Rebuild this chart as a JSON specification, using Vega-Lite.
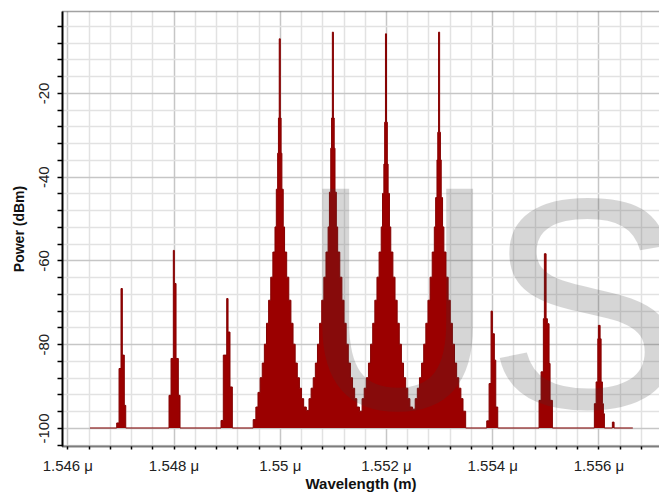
{
  "$schema": "https://vega.github.io/schema/vega-lite/v6.json",
  "width": 597,
  "height": 435,
  "autosize": "none",
  "padding": {"left": 62, "top": 11, "right": 0, "bottom": 50},
  "background": "white",
  "config": {"view": {"stroke": null}},
  "data": {
    "values": [
      {"wl": 1.546427, "p": -100},
      {"wl": 1.54693, "p": -98.8},
      {"wl": 1.546974, "p": -85.8},
      {"wl": 1.547011, "p": -66.7},
      {"wl": 1.547036, "p": -82.6},
      {"wl": 1.547073, "p": -94.6},
      {"wl": 1.5471, "p": -100},
      {"wl": 1.547915, "p": -92.2},
      {"wl": 1.547953, "p": -83.4},
      {"wl": 1.547996, "p": -57.6},
      {"wl": 1.548015, "p": -65.5},
      {"wl": 1.548047, "p": -83.4},
      {"wl": 1.54809, "p": -92.2},
      {"wl": 1.548122, "p": -100},
      {"wl": 1.548894, "p": -98.2},
      {"wl": 1.548937, "p": -82.6},
      {"wl": 1.549001, "p": -69.1},
      {"wl": 1.549026, "p": -77.1},
      {"wl": 1.549063, "p": -90.2},
      {"wl": 1.549107, "p": -100},

      {"wl": 1.5495, "p": -98},
      {"wl": 1.54955, "p": -95},
      {"wl": 1.54959, "p": -91.5},
      {"wl": 1.54963, "p": -88},
      {"wl": 1.54967, "p": -84.5},
      {"wl": 1.54971, "p": -80},
      {"wl": 1.54975, "p": -75},
      {"wl": 1.54979, "p": -69.5},
      {"wl": 1.54983, "p": -64},
      {"wl": 1.54987, "p": -58},
      {"wl": 1.54991, "p": -52},
      {"wl": 1.549935, "p": -43},
      {"wl": 1.54996, "p": -34.4},
      {"wl": 1.549975, "p": -26},
      {"wl": 1.54999, "p": -7.1},
      {"wl": 1.55001, "p": -26},
      {"wl": 1.550025, "p": -34.4},
      {"wl": 1.55004, "p": -43},
      {"wl": 1.550065, "p": -52},
      {"wl": 1.55009, "p": -58},
      {"wl": 1.55013, "p": -64},
      {"wl": 1.55017, "p": -69.5},
      {"wl": 1.55021, "p": -75},
      {"wl": 1.55025, "p": -80},
      {"wl": 1.55029, "p": -84.5},
      {"wl": 1.55033, "p": -88},
      {"wl": 1.55037, "p": -90.5},
      {"wl": 1.55041, "p": -93},
      {"wl": 1.55045, "p": -95},

      {"wl": 1.5505, "p": -95.8},
      {"wl": 1.55055, "p": -93},
      {"wl": 1.55059, "p": -90.5},
      {"wl": 1.55063, "p": -88},
      {"wl": 1.55067, "p": -84.5},
      {"wl": 1.55071, "p": -80},
      {"wl": 1.55075, "p": -75},
      {"wl": 1.55079, "p": -69.5},
      {"wl": 1.55083, "p": -64},
      {"wl": 1.55087, "p": -58},
      {"wl": 1.55091, "p": -52},
      {"wl": 1.550935, "p": -43.7},
      {"wl": 1.55096, "p": -33.2},
      {"wl": 1.550975, "p": -26},
      {"wl": 1.55099, "p": -5.5},
      {"wl": 1.55101, "p": -26},
      {"wl": 1.551025, "p": -33.2},
      {"wl": 1.55104, "p": -43.7},
      {"wl": 1.551065, "p": -52},
      {"wl": 1.55109, "p": -58},
      {"wl": 1.55113, "p": -64},
      {"wl": 1.55117, "p": -69.5},
      {"wl": 1.55121, "p": -75},
      {"wl": 1.55125, "p": -80},
      {"wl": 1.55129, "p": -84.5},
      {"wl": 1.55133, "p": -88},
      {"wl": 1.55137, "p": -90.5},
      {"wl": 1.55141, "p": -93},
      {"wl": 1.55145, "p": -95},

      {"wl": 1.5515, "p": -96},
      {"wl": 1.55155, "p": -93},
      {"wl": 1.55159, "p": -90.5},
      {"wl": 1.55163, "p": -88},
      {"wl": 1.55167, "p": -84.5},
      {"wl": 1.55171, "p": -80},
      {"wl": 1.55175, "p": -75},
      {"wl": 1.55179, "p": -69.5},
      {"wl": 1.55183, "p": -64},
      {"wl": 1.55187, "p": -58},
      {"wl": 1.55191, "p": -52},
      {"wl": 1.551935, "p": -44},
      {"wl": 1.55196, "p": -37},
      {"wl": 1.551975, "p": -27},
      {"wl": 1.55199, "p": -5.9},
      {"wl": 1.55201, "p": -27},
      {"wl": 1.552025, "p": -37},
      {"wl": 1.55204, "p": -44},
      {"wl": 1.552065, "p": -52},
      {"wl": 1.55209, "p": -58},
      {"wl": 1.55213, "p": -64},
      {"wl": 1.55217, "p": -69.5},
      {"wl": 1.55221, "p": -75},
      {"wl": 1.55225, "p": -80},
      {"wl": 1.55229, "p": -84.5},
      {"wl": 1.55233, "p": -88},
      {"wl": 1.55237, "p": -90.5},
      {"wl": 1.55241, "p": -93},
      {"wl": 1.55245, "p": -95},

      {"wl": 1.5525, "p": -95.5},
      {"wl": 1.55255, "p": -93},
      {"wl": 1.55259, "p": -90.5},
      {"wl": 1.55263, "p": -88},
      {"wl": 1.55267, "p": -84.5},
      {"wl": 1.55271, "p": -80},
      {"wl": 1.55275, "p": -75},
      {"wl": 1.55279, "p": -69.5},
      {"wl": 1.55283, "p": -64},
      {"wl": 1.55287, "p": -58},
      {"wl": 1.55291, "p": -52},
      {"wl": 1.552935, "p": -45},
      {"wl": 1.55296, "p": -36},
      {"wl": 1.552975, "p": -29.4},
      {"wl": 1.55299, "p": -5.5},
      {"wl": 1.55301, "p": -29.4},
      {"wl": 1.553025, "p": -36},
      {"wl": 1.55304, "p": -45},
      {"wl": 1.553065, "p": -52},
      {"wl": 1.55309, "p": -58},
      {"wl": 1.55313, "p": -64},
      {"wl": 1.55317, "p": -69.5},
      {"wl": 1.55321, "p": -75},
      {"wl": 1.55325, "p": -80},
      {"wl": 1.55329, "p": -84.5},
      {"wl": 1.55333, "p": -88},
      {"wl": 1.55337, "p": -90.5},
      {"wl": 1.55341, "p": -93},
      {"wl": 1.55345, "p": -96},
      {"wl": 1.5535, "p": -100},

      {"wl": 1.553897, "p": -98.3},
      {"wl": 1.553941, "p": -89.4},
      {"wl": 1.553978, "p": -72.1},
      {"wl": 1.554003, "p": -77.5},
      {"wl": 1.55404, "p": -83.8},
      {"wl": 1.554067, "p": -95},
      {"wl": 1.554104, "p": -100},
      {"wl": 1.554882, "p": -93.4},
      {"wl": 1.55492, "p": -86.6},
      {"wl": 1.554963, "p": -73.9},
      {"wl": 1.554982, "p": -58.4},
      {"wl": 1.555014, "p": -73.9},
      {"wl": 1.555038, "p": -75.1},
      {"wl": 1.55507, "p": -84.6},
      {"wl": 1.555089, "p": -93.4},
      {"wl": 1.555133, "p": -100},
      {"wl": 1.555923, "p": -94.2},
      {"wl": 1.555956, "p": -89},
      {"wl": 1.555988, "p": -78.7},
      {"wl": 1.555999, "p": -75.5},
      {"wl": 1.556031, "p": -78.7},
      {"wl": 1.55605, "p": -89},
      {"wl": 1.556074, "p": -94.2},
      {"wl": 1.556093, "p": -96.6},
      {"wl": 1.556112, "p": -100},
      {"wl": 1.556262, "p": -98.6},
      {"wl": 1.556294, "p": -100},
      {"wl": 1.556647, "p": -100}
    ]
  },
  "layer": [
    {
      "mark": {"type": "area", "interpolate": "step-after", "color": "#9b0000"},
      "encoding": {
        "x": {
          "field": "wl",
          "type": "quantitative",
          "scale": {"domain": [1.5459, 1.55714], "nice": false, "zero": false},
          "axis": {
            "orient": "bottom",
            "title": "Wavelength (m)",
            "values": [1.546, 1.5464, 1.5468, 1.5472, 1.5476, 1.548, 1.5484, 1.5488, 1.5492, 1.5496, 1.55, 1.5504, 1.5508, 1.5512, 1.5516, 1.552, 1.5524, 1.5528, 1.5532, 1.5536, 1.554, 1.5544, 1.5548, 1.5552, 1.5556, 1.556, 1.5564, 1.5568],
            "tickCount": 200,
            "labelExpr": "abs(datum.value * 500 - round(datum.value * 500)) < 0.01 ? format(datum.value, '.4~f') + ' μ' : ''",
            "labelOverlap": false,
            "labelFlush": false,
            "labelFont": "Liberation Sans",
            "labelFontSize": 15,
            "labelColor": "#222222",
            "labelPadding": 9,
            "grid": true,
            "gridColor": {"condition": {"test": "abs(datum.value * 500 - round(datum.value * 500)) < 0.01", "value": "#c6c6c6"}, "value": "#e2e2e2"},
            "gridWidth": 1.5,
            "ticks": true,
            "tickSize": 3,
            "tickColor": "#000000",
            "tickWidth": 1.5,
            "domainColor": "#000000",
            "domainWidth": 2,
            "domainDash": [1, 1],
            "titleFont": "Liberation Sans",
            "titleFontSize": 15,
            "titleFontWeight": "bold",
            "titleColor": "#111111",
            "titlePadding": 3
          }
        },
        "y": {
          "field": "p",
          "type": "quantitative",
          "scale": {"domain": [-104.3, -0.45], "nice": false, "zero": false},
          "axis": {
            "title": "Power (dBm)",
            "values": [-104, -100, -96, -92, -88, -84, -80, -76, -72, -68, -64, -60, -56, -52, -48, -44, -40, -36, -32, -28, -24, -20, -16, -12, -8, -4],
            "tickCount": 200,
            "labelExpr": "datum.value % 20 === 0 ? '' + datum.value : ''",
            "labelOverlap": false,
            "labelFlush": false,
            "labelAngle": 270,
            "labelAlign": "center",
            "labelBaseline": "bottom",
            "labelFont": "Liberation Sans",
            "labelFontSize": 15,
            "labelColor": "#222222",
            "labelPadding": 6,
            "grid": true,
            "gridColor": {"condition": {"test": "datum.value % 20 === 0", "value": "#c6c6c6"}, "value": "#e2e2e2"},
            "gridWidth": 1.5,
            "tickSize": 5,
            "tickColor": "#000000",
            "tickWidth": 1.5,
            "domainColor": "#000000",
            "domainWidth": 2,
            "titleFont": "Liberation Sans",
            "titleFontSize": 14,
            "titleFontWeight": "bold",
            "titleColor": "#111111",
            "titlePadding": 10
          }
        },
        "y2": {"datum": -100}
      }
    },
    {
      "mark": {"type": "line", "interpolate": "step-after", "color": "#850000", "strokeWidth": 1},
      "encoding": {
        "x": {
          "field": "wl",
          "type": "quantitative",
          "scale": {"domain": [1.5459, 1.55714], "nice": false, "zero": false},
          "axis": {
            "orient": "top",
            "title": null,
            "labels": false,
            "ticks": false,
            "grid": false,
            "domainColor": "#444444",
            "domainWidth": 1.5,
            "domainDash": [1, 1]
          }
        },
        "y": {"field": "p", "type": "quantitative"}
      }
    },
    {
      "data": {"values": [{"mark": "U"}]},
      "mark": {
        "type": "text",
        "font": "Liberation Sans Narrow, DejaVu Sans Condensed, Liberation Sans",
        "fontSize": 300,
        "align": "left",
        "baseline": "alphabetic",
        "color": "#3a3a3a",
        "opacity": 0.2
      },
      "encoding": {
        "text": {"field": "mark"},
        "x": {"datum": 1.55036, "type": "quantitative", "axis": null},
        "y": {"datum": -95.1, "type": "quantitative"}
      }
    },
    {
      "data": {"values": [{"mark": "S"}]},
      "mark": {
        "type": "text",
        "font": "Liberation Sans",
        "fontSize": 300,
        "align": "left",
        "baseline": "alphabetic",
        "color": "#3a3a3a",
        "opacity": 0.2
      },
      "encoding": {
        "text": {"field": "mark"},
        "x": {"datum": 1.553884, "type": "quantitative", "axis": null},
        "y": {"datum": -95.1, "type": "quantitative"}
      }
    }
  ],
  "resolve": {"axis": {"x": "independent"}}
}
